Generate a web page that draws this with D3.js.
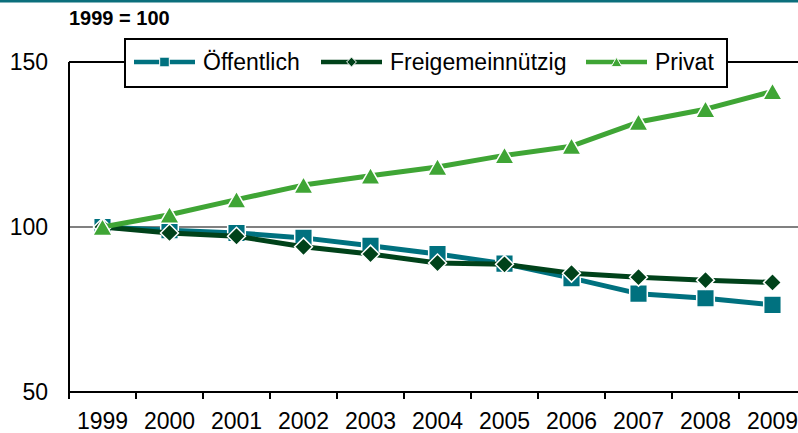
<!DOCTYPE html>
<meta charset="utf-8">
<style>
body { margin: 0; background: #fff; }
svg { font-family: "Liberation Sans", Arial, sans-serif; }
.axis path, .axis line { stroke: #000; stroke-width: 2px; }
.axis text { font-size: 23px; fill: #000; }
</style>
<svg width="798" height="433"></svg>
<script src="https://cdn.jsdelivr.net/npm/d3@7"></script>
<script>

var years = ["1999","2000","2001","2002","2003","2004","2005","2006","2007","2008","2009"];
var oeffentlich = [100, 99, 98.2, 96.7, 94.3, 91.8, 88.9, 84.5, 79.8, 78.4, 76.4];
var freigem = [100, 98.2, 97.2, 94, 91.8, 89.1, 88.7, 86, 84.8, 83.9, 83.2];
var privat = [100, 103.7, 108.3, 112.7, 115.5, 118.2, 121.7, 124.5, 131.8, 135.7, 141.1];
var yTicks = [50, 100, 150];

// diamond as a square turned by 45 degrees (d3's diamond is too tall)
var squareDiamond = {
  draw: function(ctx, size) {
    var r = Math.sqrt(size / 2);
    ctx.moveTo(0, -r); ctx.lineTo(r, 0); ctx.lineTo(0, r); ctx.lineTo(-r, 0); ctx.closePath();
  }
};
// triangle centred on its bounding box, like the spreadsheet markers
var boxTriangle = {
  draw: function(ctx, size) {
    var s = Math.sqrt(size * 4 / Math.sqrt(3)), h = s * Math.sqrt(3) / 2;
    ctx.moveTo(0, -h / 2); ctx.lineTo(s / 2, h / 2); ctx.lineTo(-s / 2, h / 2); ctx.closePath();
  }
};

var series = [
  {name: "Öffentlich", values: oeffentlich, color: "#00717f", shape: d3.symbolSquare, size: 310},
  {name: "Freigemeinnützig", values: freigem, color: "#00421a", shape: squareDiamond, size: 160},
  {name: "Privat", values: privat, color: "#3fa535", shape: boxTriangle, size: 165}
];

var svg = d3.select("svg");

// thin teal rule at the top
svg.append("rect").attr("x", 0).attr("y", 0).attr("width", 798).attr("height", 2.5).attr("fill", "#0b6f7c");

svg.append("text")
    .attr("x", 69).attr("y", 25)
    .attr("font-size", 20).attr("font-weight", "bold")
    .text("1999 = 100");

var x = d3.scaleBand().domain(years).range([69, 806]);
var y = d3.scaleLinear().domain([50, 150]).range([392, 62]);

// gridline at 100 and border at 150
svg.append("line")
    .attr("x1", 69).attr("x2", 798)
    .attr("y1", y(100)).attr("y2", y(100))
    .attr("stroke", "#808080").attr("stroke-width", 2);
svg.append("line")
    .attr("x1", 69).attr("x2", 798)
    .attr("y1", y(150)).attr("y2", y(150))
    .attr("stroke", "#000").attr("stroke-width", 2);

var yAxis = svg.append("g")
    .attr("class", "axis")
    .attr("transform", "translate(69,0)")
    .call(d3.axisLeft(y).tickValues(yTicks).tickSize(0).tickPadding(21));
yAxis.select(".domain").attr("d", "M0," + y(150) + "V" + y(50));

// x axis: ticks on band boundaries, labels at band centres
var xAxis = svg.append("g")
    .attr("class", "axis")
    .attr("transform", "translate(0,392)");
xAxis.append("line").attr("x1", 68).attr("x2", 798).attr("y1", 0).attr("y2", 0);
xAxis.selectAll("line.tk")
    .data(years)
  .enter().append("line")
    .attr("class", "tk")
    .attr("x1", function(d) { return x(d); })
    .attr("x2", function(d) { return x(d); })
    .attr("y1", 0).attr("y2", 7);
xAxis.selectAll("text")
    .data(years)
  .enter().append("text")
    .attr("x", function(d) { return x(d) + x.bandwidth() / 2; })
    .attr("y", 37)
    .attr("text-anchor", "middle")
    .text(function(d) { return d; });

var line = d3.line()
    .x(function(d, i) { return x(years[i]) + x.bandwidth() / 2; })
    .y(function(d) { return y(d); });

series.forEach(function(s) {
  svg.append("path")
      .datum(s.values)
      .attr("d", line)
      .attr("fill", "none")
      .attr("stroke", s.color)
      .attr("stroke-width", 5)
      .attr("stroke-linejoin", "round");
  svg.selectAll(null)
      .data(s.values)
    .enter().append("path")
      .attr("transform", function(d, i) {
        return "translate(" + (x(years[i]) + x.bandwidth() / 2) + "," + y(d) + ")";
      })
      .attr("d", d3.symbol().type(s.shape).size(s.size))
      .attr("fill", s.color)
      .attr("stroke", "#fff")
      .attr("stroke-width", 1.5);
});

// legend
var legend = svg.append("g");
legend.append("rect")
    .attr("x", 125).attr("y", 39)
    .attr("width", 602).attr("height", 48)
    .attr("fill", "#fff").attr("stroke", "#000").attr("stroke-width", 2);

var legendX = [134, 321, 586];
series.forEach(function(s, i) {
  var g = legend.append("g").attr("transform", "translate(" + legendX[i] + ",62)");
  g.append("line").attr("x1", 0).attr("x2", 61).attr("y1", 0).attr("y2", 0)
      .attr("stroke", s.color).attr("stroke-width", 4.5);
  g.append("path")
      .attr("transform", "translate(30.5,0)")
      .attr("d", d3.symbol().type(s.shape).size(s.size * 0.3))
      .attr("fill", s.color).attr("stroke", "#fff").attr("stroke-width", 1);
  g.append("text")
      .attr("x", 69).attr("y", 8)
      .attr("font-size", 23)
      .text(s.name);
});

</script>
